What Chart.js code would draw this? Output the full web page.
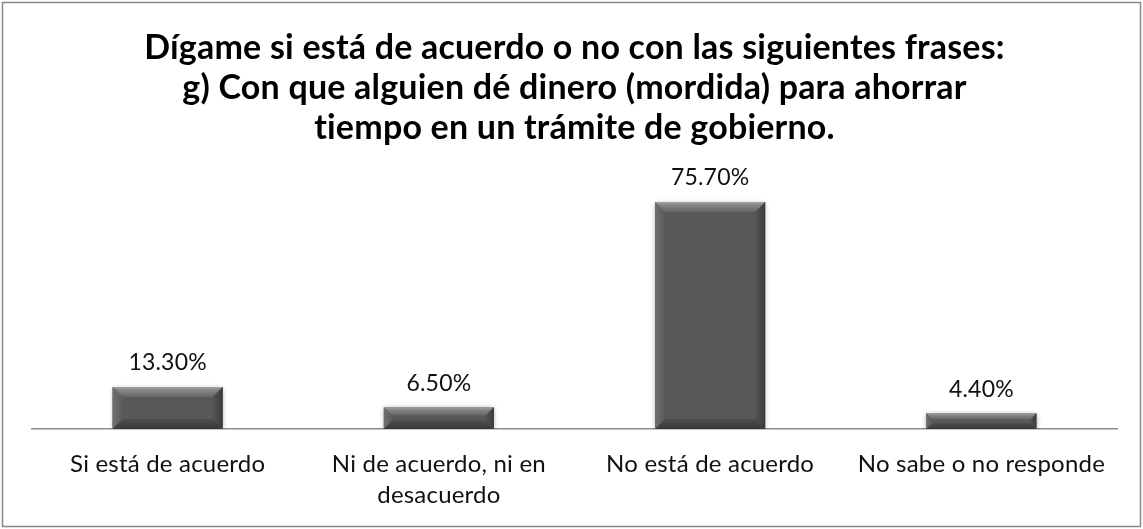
<!DOCTYPE html>
<html><head><meta charset="utf-8">
<script src="https://cdn.jsdelivr.net/npm/chart.js@4"></script>
<style>html,body{margin:0;padding:0;background:#fff}#w{width:1143px;height:529px;position:relative}</style>
</head><body><div id="w"><canvas id="c"></canvas></div>
<script>
const categories = [["Si está de acuerdo"], ["Ni de acuerdo, ni en", "desacuerdo"], ["No está de acuerdo"], ["No sabe o no responde"]];
const values = [13.3, 6.5, 75.7, 4.4];
const valueLabels = ["13.30%", "6.50%", "75.70%", "4.40%"];
const titleLines = ["Dígame si está de acuerdo o no con las siguientes frases:", "g) Con que alguien dé dinero (mordida) para ahorrar", "tiempo en un trámite de gobierno."];

const FONT = "Lato, 'Open Sans', sans-serif";

const framePlugin = {
  id: 'frame',
  beforeDraw(chart) {
    const c = chart.ctx;
    c.letterSpacing = '0.2px';
    c.save();
    c.fillStyle = '#fff';
    c.fillRect(0, 0, chart.width, chart.height);
    c.strokeStyle = '#888';
    c.lineWidth = 1.5;
    c.strokeRect(2.5, 2.5, chart.width - 5, chart.height - 5);
    c.restore();
  },
  beforeDatasetsDraw(chart) {
    const c = chart.ctx;
    c.save();
    c.shadowColor = 'rgba(0,0,0,0.35)';
    c.shadowBlur = 5;
    c.shadowOffsetY = 1;
  },
  afterDatasetsDraw(chart) {
    chart.ctx.restore();
  }
};

const bevelPlugin = {
  id: 'bevel',
  afterDatasetsDraw(chart) {
    const c = chart.ctx;
    const meta = chart.getDatasetMeta(0);
    c.save();
    meta.data.forEach((bar, i) => {
      const l = bar.x - bar.width / 2, r = bar.x + bar.width / 2;
      const t = bar.y, b = bar.base;
      const h = b - t;
      const bv = Math.min(10, h / 2.6);
      let g = c.createLinearGradient(0, t, 0, t + bv);
      g.addColorStop(0, '#a8a8a8'); g.addColorStop(0.25, '#8a8a8a'); g.addColorStop(1, '#656565');
      c.fillStyle = g;
      c.beginPath(); c.moveTo(l, t); c.lineTo(r, t); c.lineTo(r - bv, t + bv); c.lineTo(l + bv, t + bv); c.closePath(); c.fill();
      g = c.createLinearGradient(l, 0, l + bv, 0);
      g.addColorStop(0, '#707070'); g.addColorStop(1, '#5a5a5a');
      c.fillStyle = g;
      c.beginPath(); c.moveTo(l, t); c.lineTo(l + bv, t + bv); c.lineTo(l + bv, b - bv); c.lineTo(l, b); c.closePath(); c.fill();
      g = c.createLinearGradient(r - bv, 0, r, 0);
      g.addColorStop(0, '#555'); g.addColorStop(1, '#3a3a3a');
      c.fillStyle = g;
      c.beginPath(); c.moveTo(r, t); c.lineTo(r - bv, t + bv); c.lineTo(r - bv, b - bv); c.lineTo(r, b); c.closePath(); c.fill();
      g = c.createLinearGradient(0, b - bv, 0, b);
      g.addColorStop(0, '#4e4e4e'); g.addColorStop(1, '#383838');
      c.fillStyle = g;
      c.beginPath(); c.moveTo(l, b); c.lineTo(l + bv, b - bv); c.lineTo(r - bv, b - bv); c.lineTo(r, b); c.closePath(); c.fill();
      c.fillStyle = '#111';
      c.font = "23px " + FONT;
      c.textAlign = 'center';
      c.textBaseline = 'middle';
      c.fillText(valueLabels[i], bar.x, t - 24);
    });
    c.restore();
  }
};

new Chart(document.getElementById('c'), {
  type: 'bar',
  data: {
    labels: categories,
    datasets: [{
      data: values,
      base: -0.87,
      backgroundColor: '#585858',
      borderWidth: 0,
      categoryPercentage: 1,
      barPercentage: 0.406
    }]
  },
  options: {
    responsive: true,
    maintainAspectRatio: false,
    animation: false,
    events: [],
    layout: { padding: { left: 32, right: 26, top: 0, bottom: 0 } },
    plugins: {
      legend: { display: false },
      tooltip: { enabled: false },
      title: {
        display: true,
        text: titleLines,
        color: '#000',
        font: { family: FONT, size: 34, weight: 'bold', lineHeight: 1.176 },
        padding: { top: 28, bottom: 44 }
      }
    },
    scales: {
      x: {
        grid: { display: false, drawTicks: false },
        border: { display: true, color: '#8c8c8c', width: 1.5 },
        ticks: { color: '#111', font: { family: FONT, size: 24, lineHeight: 1.29 }, padding: 20, maxRotation: 0, autoSkip: false },
        afterFit(s) { s.height = 100; }
      },
      y: {
        display: false,
        min: -0.87,
        max: 79.06
      }
    }
  },
  plugins: [framePlugin, bevelPlugin]
});
</script>
</body></html>
